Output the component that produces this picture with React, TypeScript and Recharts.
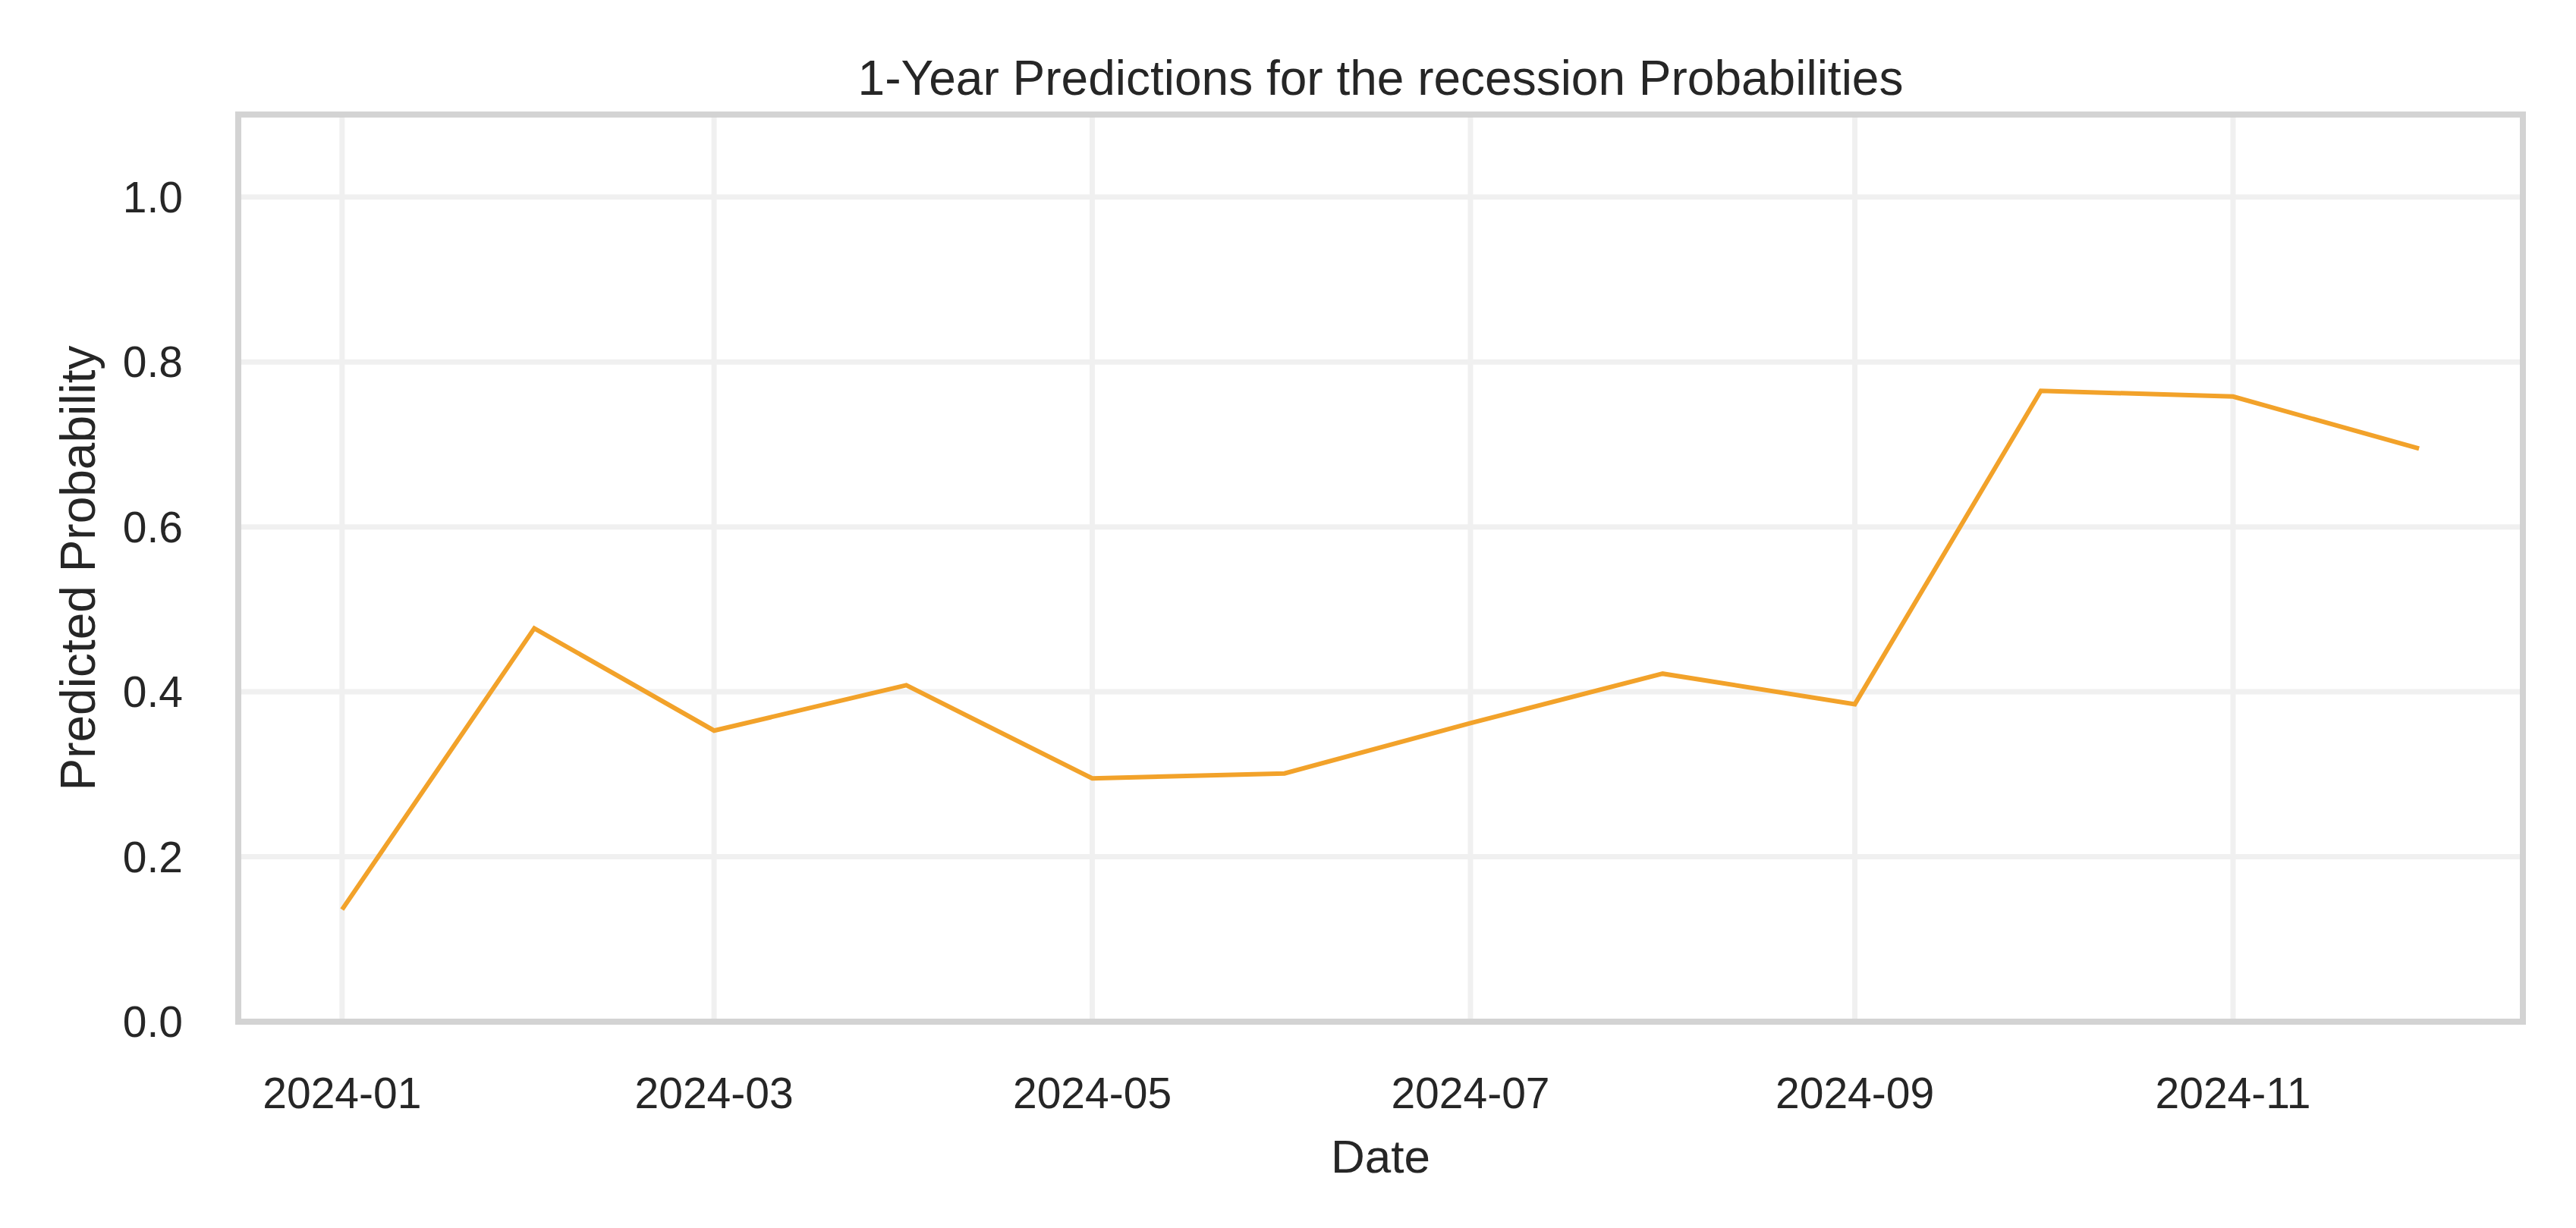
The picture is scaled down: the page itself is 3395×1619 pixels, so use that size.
import { LineChart, Line, XAxis, YAxis, CartesianGrid, ReferenceArea, Label } from 'recharts';

const DAY = 24 * 60 * 60 * 1000;

const months = [
  '2024-01-01', '2024-02-01', '2024-03-01', '2024-04-01', '2024-05-01', '2024-06-01',
  '2024-07-01', '2024-08-01', '2024-09-01', '2024-10-01', '2024-11-01', '2024-12-01',
];

const probabilities = [0.136, 0.477, 0.353, 0.408, 0.295, 0.301, 0.362, 0.422, 0.385, 0.765, 0.758, 0.695];

const xTickDates = ['2024-01-01', '2024-03-01', '2024-05-01', '2024-07-01', '2024-09-01', '2024-11-01'];
const yTicks = [0, 0.2, 0.4, 0.6, 0.8, 1.0];

const toTime = (d: string) => new Date(d + 'T00:00:00Z').getTime();

const data = months.map((m, i) => ({ t: toTime(m), p: probabilities[i] }));

// matplotlib-style 5% padding on the date axis
const tMin = data[0].t;
const tMax = data[data.length - 1].t;
const pad = (tMax - tMin) * 0.05;
const X_DOMAIN: [number, number] = [tMin - pad, tMax + pad];
const Y_DOMAIN: [number, number] = [0, 1.1];

const xTicks = xTickDates.map(toTime);

const formatMonth = (t: number) => {
  const d = new Date(t);
  return `${d.getUTCFullYear()}-${String(d.getUTCMonth() + 1).padStart(2, '0')}`;
};

const FONT = '"Liberation Sans", Arial, sans-serif';
const TEXT = '#262626';

const App = () => {
  return (
    <div style={{ position: 'absolute', left: 0, top: 0, width: 3395, height: 1619, background: '#fff' }}>
      <LineChart
        width={3395}
        height={1619}
        data={data}
        margin={{ top: 151, right: 70, bottom: 0, left: 0 }}
        style={{ fontFamily: FONT }}
      >
        <CartesianGrid stroke="#f0f0f0" strokeWidth={7} />
        <XAxis
          dataKey="t"
          type="number"
          scale="time"
          domain={X_DOMAIN}
          ticks={xTicks}
          tickFormatter={formatMonth}
          height={272}
          axisLine={false}
          tickLine={false}
          tickSize={0}
          tickMargin={74}
          tick={{ fill: TEXT, fontSize: 57, fontFamily: FONT }}
        >
          <Label
            content={({ viewBox }: any) => (
              <text
                x={viewBox.x + viewBox.width / 2}
                y={1546}
                textAnchor="middle"
                fill={TEXT}
                fontSize={62}
                fontFamily={FONT}
              >
                Date
              </text>
            )}
          />
        </XAxis>
        <YAxis
          type="number"
          domain={Y_DOMAIN}
          ticks={yTicks}
          tickFormatter={(v: number) => v.toFixed(1)}
          width={314}
          axisLine={false}
          tickLine={false}
          tickSize={0}
          tickMargin={73}
          tick={{ fill: TEXT, fontSize: 57, fontFamily: FONT }}
        >
          <Label
            content={({ viewBox }: any) => {
              const cx = 125;
              const cy = viewBox.y + viewBox.height / 2;
              return (
                <text
                  x={cx}
                  y={cy}
                  transform={`rotate(-90, ${cx}, ${cy})`}
                  textAnchor="middle"
                  fill={TEXT}
                  fontSize={64}
                  fontFamily={FONT}
                >
                  Predicted Probability
                </text>
              );
            }}
          />
        </YAxis>
        <ReferenceArea
          x1={X_DOMAIN[0]}
          x2={X_DOMAIN[1]}
          y1={Y_DOMAIN[0]}
          y2={Y_DOMAIN[1]}
          fill="none"
          fillOpacity={0}
          stroke="#d3d3d3"
          strokeWidth={8}
        />
        <Line
          type="linear"
          dataKey="p"
          stroke="#F2A22A"
          strokeWidth={6}
          dot={false}
          activeDot={false}
          isAnimationActive={false}
        />
      </LineChart>
      <div
        style={{
          position: 'absolute',
          left: 314,
          width: 3011,
          top: 71,
          textAlign: 'center',
          fontFamily: FONT,
          fontSize: 64,
          lineHeight: '64px',
          color: TEXT,
          whiteSpace: 'nowrap',
        }}
      >
        1-Year Predictions for the recession Probabilities
      </div>
    </div>
  );
};

export default App;
